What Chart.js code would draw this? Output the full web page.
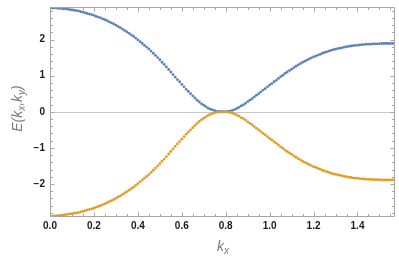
<!DOCTYPE html>
<html>
<head>
<meta charset="utf-8">
<script src="https://cdn.jsdelivr.net/npm/chart.js@4/dist/chart.umd.min.js"></script>
<style>
html,body{margin:0;padding:0;background:#fff;}
canvas{display:block;}
</style>
</head>
<body>
<canvas id="c" width="399" height="257"></canvas>
<script>
// ---- data ----
const kx = [
0.00,0.01,0.02,0.03,0.04,0.05,0.06,0.07,0.08,0.09,
0.10,0.11,0.12,0.13,0.14,0.15,0.16,0.17,0.18,0.19,
0.20,0.21,0.22,0.23,0.24,0.25,0.26,0.27,0.28,0.29,
0.30,0.31,0.32,0.33,0.34,0.35,0.36,0.37,0.38,0.39,
0.40,0.41,0.42,0.43,0.44,0.45,0.46,0.47,0.48,0.49,
0.50,0.51,0.52,0.53,0.54,0.55,0.56,0.57,0.58,0.59,
0.60,0.61,0.62,0.63,0.64,0.65,0.66,0.67,0.68,0.69,
0.70,0.71,0.72,0.73,0.74,0.75,0.76,0.77,0.78,0.79,
0.80,0.81,0.82,0.83,0.84,0.85,0.86,0.87,0.88,0.89,
0.90,0.91,0.92,0.93,0.94,0.95,0.96,0.97,0.98,0.99,
1.00,1.01,1.02,1.03,1.04,1.05,1.06,1.07,1.08,1.09,
1.10,1.11,1.12,1.13,1.14,1.15,1.16,1.17,1.18,1.19,
1.20,1.21,1.22,1.23,1.24,1.25,1.26,1.27,1.28,1.29,
1.30,1.31,1.32,1.33,1.34,1.35,1.36,1.37,1.38,1.39,
1.40,1.41,1.42,1.43,1.44,1.45,1.46,1.47,1.48,1.49,
1.50,1.51,1.52,1.53,1.54,1.55,1.56,1.57];

const upperBand = [
2.87,2.87,2.87,2.87,2.86,2.86,2.85,2.85,2.84,2.83,
2.82,2.81,2.80,2.79,2.77,2.76,2.74,2.72,2.70,2.69,
2.67,2.64,2.62,2.60,2.57,2.55,2.52,2.49,2.46,2.43,
2.40,2.36,2.33,2.29,2.25,2.21,2.17,2.13,2.09,2.04,
1.99,1.94,1.89,1.84,1.79,1.74,1.68,1.62,1.56,1.50,
1.44,1.37,1.31,1.24,1.17,1.10,1.03,0.96,0.89,0.83,
0.76,0.69,0.62,0.56,0.50,0.44,0.38,0.32,0.27,0.22,
0.18,0.14,0.10,0.07,0.05,0.03,0.01,0.01,0.00,0.00,
0.00,0.01,0.02,0.04,0.06,0.09,0.12,0.16,0.19,0.23,
0.28,0.32,0.36,0.41,0.46,0.50,0.55,0.60,0.64,0.69,
0.74,0.78,0.83,0.87,0.92,0.97,1.01,1.06,1.10,1.14,
1.18,1.22,1.26,1.30,1.33,1.37,1.40,1.43,1.46,1.49,
1.52,1.54,1.57,1.59,1.62,1.64,1.66,1.68,1.70,1.72,
1.73,1.75,1.76,1.77,1.79,1.80,1.81,1.82,1.83,1.84,
1.84,1.85,1.86,1.86,1.87,1.87,1.87,1.88,1.88,1.88,
1.88,1.89,1.89,1.89,1.89,1.89,1.89,1.89];

const lowerBand = [
-2.89,-2.89,-2.88,-2.88,-2.87,-2.87,-2.86,-2.85,-2.84,-2.83,
-2.82,-2.81,-2.80,-2.79,-2.77,-2.76,-2.74,-2.72,-2.70,-2.69,
-2.67,-2.64,-2.62,-2.60,-2.57,-2.55,-2.52,-2.49,-2.46,-2.43,
-2.40,-2.36,-2.33,-2.29,-2.25,-2.21,-2.17,-2.13,-2.09,-2.04,
-1.99,-1.94,-1.89,-1.84,-1.79,-1.74,-1.68,-1.62,-1.56,-1.50,
-1.44,-1.37,-1.31,-1.24,-1.17,-1.10,-1.03,-0.96,-0.89,-0.83,
-0.76,-0.69,-0.62,-0.56,-0.50,-0.44,-0.38,-0.32,-0.27,-0.22,
-0.18,-0.14,-0.10,-0.07,-0.05,-0.03,-0.01,-0.01,0.00,0.00,
0.00,-0.01,-0.02,-0.04,-0.06,-0.09,-0.12,-0.16,-0.19,-0.23,
-0.28,-0.32,-0.36,-0.41,-0.46,-0.50,-0.55,-0.60,-0.64,-0.69,
-0.74,-0.78,-0.83,-0.87,-0.92,-0.97,-1.01,-1.06,-1.10,-1.14,
-1.18,-1.22,-1.26,-1.30,-1.33,-1.37,-1.40,-1.43,-1.46,-1.49,
-1.52,-1.54,-1.57,-1.59,-1.62,-1.64,-1.66,-1.68,-1.70,-1.72,
-1.73,-1.75,-1.76,-1.77,-1.79,-1.80,-1.81,-1.82,-1.83,-1.84,
-1.84,-1.85,-1.86,-1.86,-1.87,-1.87,-1.87,-1.88,-1.88,-1.88,
-1.88,-1.89,-1.89,-1.89,-1.89,-1.89,-1.89,-1.89];

const xTicks = [0.0,0.2,0.4,0.6,0.8,1.0,1.2,1.4];
const xMinorTicks = [0.05,0.1,0.15,0.25,0.3,0.35,0.45,0.5,0.55,0.65,0.7,0.75,0.85,0.9,0.95,1.05,1.1,1.15,1.25,1.3,1.35,1.45,1.5,1.55];
const yTicks = [-2,-1,0,1,2];
const yMinorTicks = [-2.8,-2.6,-2.4,-2.2,-1.8,-1.6,-1.4,-1.2,-0.8,-0.6,-0.4,-0.2,0.2,0.4,0.6,0.8,1.2,1.4,1.6,1.8,2.2,2.4,2.6,2.8];
const xRange = [0, 1.5708];
const yRange = [-2.9, 2.9];

// ---- styling ----
const BLUE = '#5e81b5';
const ORANGE = '#e19c24';
const FRAME = '#a6a6a6';
const ZERO = '#c8c8c8';
const FONT = "'Liberation Sans', Arial, sans-serif";

function pts(xs, ys){ return xs.map((x,i)=>({x:x, y:ys[i]})); }

const framePlugin = {
  id: 'frame',
  beforeDatasetsDraw(chart){
    const {ctx, chartArea:a, scales} = chart;
    const y0 = Math.round(scales.y.getPixelForValue(0)) + 0.5;
    ctx.save();
    ctx.strokeStyle = ZERO;
    ctx.lineWidth = 1;
    ctx.beginPath();
    ctx.moveTo(a.left, y0); ctx.lineTo(a.right, y0);
    ctx.stroke();
    ctx.restore();
  },
  afterDatasetsDraw(chart){
    const {ctx, chartArea:a, scales} = chart;
    const xs = scales.x, ys = scales.y;
    ctx.save();
    ctx.strokeStyle = FRAME;
    ctx.lineWidth = 1;
    const L = Math.round(a.left)+0.5, R = Math.round(a.right)-0.5;
    const T = Math.round(a.top)+0.5, B = Math.round(a.bottom)-0.5;
    ctx.beginPath();
    ctx.rect(L, T, R-L, B-T);
    ctx.stroke();
    ctx.beginPath();
    const tickX = (vals, len) => vals.forEach(v => {
      const p = Math.round(xs.getPixelForValue(v)) + 0.5;
      ctx.moveTo(p, B); ctx.lineTo(p, B-len);
      ctx.moveTo(p, T); ctx.lineTo(p, T+len);
    });
    const tickY = (vals, len) => vals.forEach(v => {
      const p = Math.round(ys.getPixelForValue(v)) + 0.5;
      ctx.moveTo(L, p); ctx.lineTo(L+len, p);
      ctx.moveTo(R, p); ctx.lineTo(R-len, p);
    });
    tickX(xTicks, 4); tickX(xMinorTicks, 2.5);
    tickY(yTicks, 4); tickY(yMinorTicks, 2.5);
    ctx.stroke();
    ctx.restore();

    // axis titles with subscripts
    const drawPieces = (pieces, cx, cy, rot) => {
      ctx.save();
      ctx.translate(cx, cy);
      if (rot) ctx.rotate(-Math.PI/2);
      ctx.fillStyle = '#7a7a7a';
      ctx.textBaseline = 'alphabetic';
      ctx.textAlign = 'left';
      let total = 0;
      pieces.forEach(p => { ctx.font = p.f; p.w = ctx.measureText(p.t).width; total += p.w; });
      let x = -total/2;
      pieces.forEach(p => { ctx.font = p.f; ctx.fillText(p.t, x, p.dy); x += p.w; });
      ctx.restore();
    };
    const big = 'italic 14px ' + FONT, small = 'italic 10px ' + FONT;
    drawPieces([
      {t:'E(', f:big, dy:5},
      {t:'k', f:big, dy:5},
      {t:'x', f:small, dy:8},
      {t:',', f:big, dy:5},
      {t:'k', f:big, dy:5},
      {t:'y', f:small, dy:8},
      {t:')', f:big, dy:5}
    ], 17, 108.5, true);
    drawPieces([
      {t:'k', f:big, dy:0},
      {t:'x', f:small, dy:3}
    ], 223, 251, false);
  }
};

new Chart(document.getElementById('c'), {
  type: 'scatter',
  data: {
    datasets: [
      { label:'lower', data: pts(kx, lowerBand), backgroundColor: ORANGE, pointRadius: 1.4, pointBorderWidth: 0, borderWidth: 0, showLine:false },
      { label:'upper', data: pts(kx, upperBand), backgroundColor: BLUE, pointRadius: 1.4, pointBorderWidth: 0, borderWidth: 0, showLine:false }
    ]
  },
  options: {
    responsive: false,
    devicePixelRatio: 1,
    animation: false,
    layout: { padding: { top: 4, right: 3.4, left: 0, bottom: 0 } },
    plugins: { legend: { display:false }, tooltip: { enabled:false } },
    scales: {
      x: {
        type: 'linear', min: xRange[0], max: xRange[1],
        grid: { display:false, drawTicks:false },
        border: { display:false },
        afterBuildTicks: s => { s.ticks = xTicks.map(v => ({value:v})); },
        afterFit: s => { s.height = 40.5; },
        ticks: { padding: 4, color:'#1a1a1a', font:{ family: FONT, size:10, weight:'bold' }, maxRotation:0, autoSkip:false,
                 callback: v => Number(v).toFixed(1) }
      },
      y: {
        type: 'linear', min: yRange[0], max: yRange[1],
        grid: { display:false, drawTicks:false },
        border: { display:false },
        afterBuildTicks: s => { s.ticks = yTicks.map(v => ({value:v})); },
        afterFit: s => { s.width = 50; },
        ticks: { padding: 5, color:'#1a1a1a', font:{ family: FONT, size:10, weight:'bold', lineHeight: 0.4 }, autoSkip:false,
                 callback: v => v < 0 ? '\u2212' + Math.abs(v) : String(v) }
      }
    }
  },
  plugins: [framePlugin]
});
</script>
</body>
</html>
